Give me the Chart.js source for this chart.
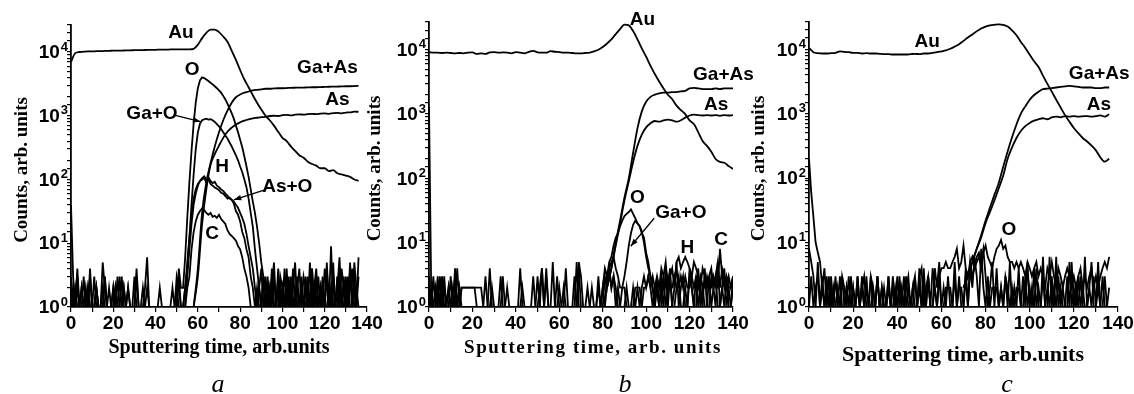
<!DOCTYPE html>
<html>
<head>
<meta charset="utf-8">
<script src="https://cdn.jsdelivr.net/npm/chart.js@4.4.1/dist/chart.umd.min.js"></script>
<style>
  body { margin: 0; background: #fff; }
  #wrap { position: relative; width: 1134px; height: 394px; }
  #wrap canvas { position: absolute; left: 0; top: 0; }
</style>
</head>
<body>
<div id="wrap">
  <canvas id="panel-a" width="1134" height="394"></canvas>
  <canvas id="panel-b" width="1134" height="394"></canvas>
  <canvas id="panel-c" width="1134" height="394"></canvas>
</div>
<script>
// tick labels
const xTickLabels = [0, 20, 40, 60, 80, 100, 120, 140];
const yDecades = [1, 10, 100, 1000, 10000];

// ---- panel a ----  (smooth curves sampled every 2 units, the rest every unit)
const auA = [7000, 9600, 10000, 10100, 10200, 10200, 10300, 10300, 10400, 10400,
  10500, 10500, 10500, 10600, 10600, 10700, 10700, 10700, 10800, 10800,
  10800, 10900, 10900, 10900, 11000, 11000, 11000, 11000, 11000, 11200,
  13000, 16500, 20000, 22500, 22500, 20500, 17500, 14500, 10500, 7500,
  5200, 3700, 2800, 2100, 1600, 1250, 1000, 850, 700, 560,
  450, 400, 330, 280, 240, 220, 190, 175, 165, 150,
  150, 135, 140, 125, 120, 115, 110, 100, 95];
const gaAsA = [1, 4, 30, 90, 180, 330, 550, 850, 1200, 1600,
  1950, 2150, 2300, 2400, 2500, 2550, 2600, 2650, 2650, 2680,
  2700, 2700, 2720, 2740, 2750, 2760, 2770, 2780, 2800, 2800,
  2820, 2830, 2850, 2860, 2870, 2880, 2900, 2900, 2920, 2950];
const asA = [1, 3, 20, 70, 170, 250, 340, 450, 560, 650,
  730, 790, 840, 880, 910, 930, 950, 960, 990, 1000,
  990, 1020, 1030, 1010, 1040, 1050, 1040, 1060, 1070, 1060,
  1080, 1090, 1070, 1100, 1110, 1090, 1120, 1130, 1160, 1150];
const oA = [3, 1, 1, 2, 1, 1, 3, 1, 2, 1, 1, 1, 2, 1, 1, 5, 2, 1, 1, 1,
  2, 1, 1, 3, 1, 1, 1, 2, 1, 1, 1, 4, 1, 1, 1, 2, 6, 1, 1, 1,
  1, 1, 2, 1, 1, 1, 1, 1, 2, 1, 1, 4, 2,
  2, 6, 25, 90, 280, 750, 1600, 2700, 3600, 4000,
  3900, 3700, 3500, 3300, 3100, 2900, 2700, 2500, 2300, 2050,
  1800, 1550, 1300, 1100, 900, 700, 550, 420, 320, 230,
  160, 110, 70, 45, 30, 18, 10, 5, 3, 1,
  2, 1, 3, 1, 1, 4, 1, 2, 1, 3, 1, 1, 2, 5, 1, 1, 3, 1, 2, 1,
  1, 4, 1, 3, 1, 2, 1, 1, 5, 1, 2, 3, 1, 1, 4, 1, 2, 1, 3, 1, 1, 5, 2, 1];
const gaOA = [1, 2, 1, 3, 1, 1, 1, 2, 1, 4, 1, 1, 2, 1, 1, 1, 3, 1, 2, 1,
  1, 2, 1, 1, 3, 1, 1, 2, 1, 1, 3, 1, 1, 1, 1, 1, 2, 1, 1, 1,
  1, 1, 1, 1, 1, 1, 1, 1, 1, 1, 3, 2, 1, 1,
  2, 4, 12, 40, 120, 300, 550, 750, 850, 880,
  900, 870, 880, 850, 800, 740, 680, 620, 550, 490,
  440, 380, 330, 280, 240, 200, 160, 130, 100, 75,
  50, 30, 18, 8, 4, 2, 1,
  3, 1, 2, 1, 4, 1, 1, 3, 1, 2, 1, 1, 3, 1, 4, 1, 2, 1, 1, 3,
  2, 1, 1, 4, 1, 3, 1, 1, 2, 1, 4, 1, 1, 3, 1, 2, 6, 1, 1, 3,
  1, 2, 4, 1, 1, 3];
const hA = [40, 3,
  1, 4, 1, 2, 1, 1, 1, 3, 1, 1, 2, 1, 1, 1, 3, 1, 1, 1, 2, 1,
  3, 1, 1, 2, 1, 1, 1, 1, 1, 3, 1, 1, 2, 1, 1, 1, 1, 1, 1, 1,
  1, 1, 1, 1, 1, 1, 1, 1, 1, 3, 1, 1,
  2, 5, 12, 28, 50, 70, 85, 95, 105, 112,
  100, 108, 95, 88, 92, 80, 76, 70, 66, 60,
  56, 50, 48, 45, 40, 36, 30, 25, 20, 14,
  9, 6, 4, 2, 1,
  2, 4, 1, 1, 3, 1, 2, 5, 1, 1, 3, 2, 1, 4, 1, 3, 1, 1, 2, 4,
  1, 1, 3, 1, 5, 1, 2, 1, 3, 1, 1, 4, 2, 1, 9, 1, 1, 3, 1, 4,
  2, 1, 1, 5, 1, 3, 1, 1];
const asOA = [2, 1, 1, 1, 1, 2, 1, 1, 1, 1, 1, 3, 1, 1, 1, 1, 1, 1, 1, 1,
  1, 2, 1, 1, 1, 1, 1, 1, 1, 1, 1, 1, 1, 1, 1, 1, 1, 1, 1, 1,
  1, 1, 1, 1, 1, 1, 1, 1, 1, 1, 2, 1, 1, 1, 1,
  3, 8, 20, 40, 60, 80, 95, 100, 106, 90,
  100, 85, 80, 75, 72, 68, 62, 60, 55, 50,
  52, 48, 42, 32, 28, 22, 15, 12, 8, 6,
  3, 2, 1,
  1, 2, 1, 3, 1, 1, 2, 1, 3, 1, 2, 1, 1, 4, 1, 1, 2, 1, 1, 3,
  1, 2, 1, 1, 3, 1, 1, 2, 4, 1, 1, 3, 1, 1, 2, 1, 5, 1, 1, 2,
  1, 3, 1, 1, 4, 1, 2, 1, 6];
const cA = [1, 1, 2, 1, 1, 1, 1, 1, 2, 1, 1, 1, 1, 1, 1, 2, 1, 1, 1, 1,
  1, 1, 1, 1, 1, 2, 1, 1, 1, 1, 1, 1, 1, 1, 1, 1, 1, 1, 1, 1,
  1, 1, 1, 1, 1, 1, 1, 1, 1, 1, 1, 1, 1, 1, 1, 2,
  3, 8, 15, 22, 28, 32, 35, 33, 30, 28,
  30, 26, 27, 25, 28, 24, 22, 20, 16, 14,
  13, 12, 11, 9, 8, 6, 4, 3, 2, 1,
  1, 1, 2, 1, 1, 1, 3, 1, 1, 2, 1, 1, 1, 2, 1, 1, 3, 1, 1, 1,
  2, 1, 1, 1, 1, 2, 1, 1, 3, 1, 1, 1, 2, 1, 1, 1, 1, 2, 1, 1,
  3, 1, 1, 1, 2, 1, 1, 1, 2, 1, 1];

// ---- panel b ----
const auB = [9200, 9000, 9000, 8900, 9000, 8900, 8800, 8900, 8800, 9000,
  9100, 8600, 8800, 8600, 9100, 9200, 9000, 9100, 9000, 8800,
  9200, 9000, 8800, 9300, 9600, 9100, 9000, 9000, 9500, 9300,
  9200, 9000, 9000, 8900, 8800, 8800, 8900, 9000, 9400, 10000,
  11000, 12500, 14500, 17500, 21000, 24500, 24000, 19500, 14500, 10500,
  7800, 5600, 4200, 3200, 2500, 2000, 1700, 1350, 1150, 1000,
  800, 700, 520, 380, 320, 260, 200, 180, 175, 155, 140];
const gaAsB = [2, 4, 10, 22, 50, 100, 250, 600, 1100, 1550,
  1850, 2000, 2100, 2150, 2150, 2200, 2200, 2250, 2300, 2500,
  2550, 2500, 2450, 2450, 2450, 2500, 2450, 2500, 2500, 2500];
const asB = [2, 4, 9, 20, 45, 90, 180, 320, 480, 620,
  720, 780, 760, 800, 820, 800, 760, 800, 880, 950,
  980, 960, 950, 960, 950, 960, 940, 960, 950, 960];
const oB = [2, 1, 3, 1, 2, 1, 1, 3, 1, 2, 1, 1, 4, 1, 2, 1, 1, 1, 1, 1,
  1, 1, 1, 1, 1, 1, 3, 1, 1, 1, 1, 1, 1, 3, 1, 1, 1, 1, 1, 1,
  1, 1, 4, 1, 1, 1, 1, 1, 1, 1, 1, 2, 4, 1, 1, 1, 1, 5, 1, 1,
  1, 1, 2, 1, 1, 1, 1, 1, 5, 1, 1, 1, 1, 1, 1, 2, 1, 1, 3, 1,
  2, 4, 3,
  5, 6, 9, 12, 14, 18, 22, 26, 28, 30, 33, 28, 24, 20, 18, 14, 12, 7, 5, 3, 2, 1,
  3, 1, 2, 1, 4, 1, 3, 1, 2, 5, 1, 2, 3, 1, 1, 4, 2, 1, 3, 1,
  2, 1, 4, 1, 1, 3, 2, 1, 5, 1, 2, 1, 3, 1, 1, 3];
const gaOB = [1, 2, 1, 1, 3, 1, 2, 1, 1, 1, 3, 1, 1, 1, 1, 2, 2, 2, 2, 2,
  2, 2, 2, 2, 2, 1, 1, 1, 1, 2, 1, 1, 1, 1, 1, 1, 1, 1, 1, 1,
  1, 1, 1, 1, 1, 1, 1, 1, 1, 1, 3, 1, 1, 1, 1, 1, 1, 1, 1, 1,
  2, 1, 1, 1, 1, 1, 1, 1, 1, 4, 1, 1, 1, 1, 1, 1, 1, 1, 1, 1,
  1, 1, 3, 4, 2, 3, 2, 1, 1,
  2, 3, 5, 9, 14, 19, 22, 20, 18, 15, 10, 6, 4, 3, 2, 1,
  2, 1, 1, 3, 1, 2, 4, 1, 1, 2, 3, 1, 1, 2, 1, 3, 2, 1, 1, 4,
  1, 2, 1, 1, 3, 1, 2, 3, 1, 1, 2, 4, 1, 2, 1, 2];
const hB = [3, 1, 1, 2, 1, 3, 1, 2, 1, 1, 1, 2, 1, 4, 1, 1, 1, 1, 1, 1,
  1, 1, 1, 1, 1, 1, 1, 1, 4, 1, 1, 1, 1, 1, 1, 1, 2, 1, 1, 1,
  1, 1, 1, 1, 1, 1, 1, 1, 3, 1, 1, 1, 1, 1, 4, 1, 1, 1, 1, 3,
  1, 1, 1, 4, 1, 1, 1, 1, 1, 5, 3, 1, 1, 2, 1, 1, 1, 1, 1, 1,
  2, 1, 3, 4, 5, 6, 4, 3, 2, 2, 2, 1, 1, 1, 1, 2, 2, 2, 1, 2,
  2, 3, 2, 1, 2,
  3, 2, 4, 3, 5, 2, 3, 4, 2, 5, 6, 4, 5, 6, 5, 4, 3, 5, 4, 3,
  2, 4, 3, 2, 3, 4, 2, 3, 5, 2, 4, 3, 2, 3, 2, 3];
const cB = [1300, 2, 1, 1, 2, 1, 3, 1, 1, 2, 1, 1, 3, 1, 1, 2, 2, 2, 2, 2,
  2, 2, 1, 1, 1, 1, 1, 1, 1, 1, 1, 1, 1, 1, 3, 1, 1, 1, 1, 1,
  1, 1, 1, 2, 1, 1, 1, 1, 1, 1, 1, 1, 4, 1, 3, 1, 1, 1, 1, 1,
  1, 1, 1, 1, 1, 1, 1, 3, 1, 1, 1, 1, 1, 1, 1, 1, 1, 1, 2, 1,
  1, 3, 2, 4, 2, 3, 1, 2, 1, 1, 1, 2, 1, 1, 2, 1, 2, 1, 2, 3,
  2, 3, 2, 3, 2, 2, 1, 3, 2, 2, 3, 2, 2, 3, 2, 2, 3, 2, 3, 2,
  2, 3, 2, 3, 2, 3, 2, 2, 3, 2, 2, 3, 2, 2, 8, 3, 2, 3, 2, 2, 3];

// ---- panel c ----
const auC = [10500, 9000, 8700, 8600, 8600, 8700, 8800, 9300, 9100, 9000,
  8800, 8800, 8600, 8700, 8600, 8600, 8500, 8400, 8400, 8300,
  8300, 8300, 8300, 8400, 8500, 8400, 8600, 8600, 8800, 9000,
  9300, 9600, 10200, 11000, 12000, 13500, 15200, 17000, 19000, 21000,
  22500, 23500, 24000, 24300, 24000, 22500, 19700, 16500, 13000, 10500,
  8200, 6500, 5300, 3900, 2900, 2200, 1650, 1250, 950, 750,
  600, 500, 420, 370, 320, 270, 210, 180, 200];
const gaAsC = [2, 3, 5, 8, 13, 22, 35, 55, 85, 150,
  260, 430, 680, 1000, 1300, 1650, 1950, 2200, 2400, 2450,
  2500, 2550, 2600, 2650, 2700, 2650, 2600, 2550, 2550, 2550,
  2500, 2500, 2550, 2550];
const asC = [2, 3, 5, 8, 12, 20, 30, 45, 70, 110,
  200, 300, 420, 540, 640, 720, 780, 820, 850, 820,
  880, 900, 880, 920, 900, 920, 900, 910, 920, 900,
  920, 940, 900, 980];
const oC = [1, 3, 1, 2, 3, 1, 2, 1, 3, 1, 2, 1, 3, 1, 1, 3, 2, 1, 3, 1,
  2, 1, 3, 1, 2, 3, 1, 1, 3, 2, 1, 3, 1, 2, 1, 1, 3, 1, 2, 1,
  3, 1, 2, 1, 3, 1, 1, 2, 3, 1, 3, 4, 1, 2, 3, 1, 4, 2, 1, 3, 4,
  4, 5, 4, 4, 5, 6, 8, 4, 5, 9, 4, 3, 5, 6, 4,
  5, 6, 4, 7, 9, 6, 5, 4, 6, 8, 9, 11, 8, 9, 6, 5, 5, 4, 5, 4,
  5, 4, 3, 5, 4, 3, 4, 5, 3, 4, 3, 2, 4, 3, 5, 3, 2, 4, 3, 2,
  3, 4, 3, 2, 3, 2, 3, 4, 2, 3, 2, 3, 4, 2, 3, 2, 3, 4, 5, 4, 6];
const hC = [200, 60, 25, 10, 7,
  5, 2, 4, 1, 3, 1, 2, 1, 1, 3, 1, 1, 2, 1, 3, 1, 1, 2, 1, 3,
  1, 2, 1, 3, 1, 1, 3, 1, 2, 1, 1, 3, 1, 1, 2, 1, 3, 1, 1, 2,
  3, 1, 2, 1, 1, 4, 1, 2, 1, 3, 1, 1, 2, 1, 3, 1,
  1, 2, 2, 2, 1, 3, 1, 2, 2, 1, 3, 1, 4, 2, 6, 3, 1, 8, 2, 1,
  3, 1, 2, 2, 2, 1, 2, 1, 3, 2, 1, 2, 1, 2, 2, 1, 1, 3, 1, 2,
  1, 4, 1, 2, 1, 3, 1, 1, 6, 1, 2, 1, 3, 1, 2, 1, 1, 5, 1, 2,
  1, 3, 1, 2, 1, 1, 2, 5, 1, 1, 2, 1, 3, 1, 1, 1];
const cC = [8, 5, 3, 1, 5, 1, 3, 1, 2, 1, 3, 1, 1, 2, 1, 3, 1, 2, 1, 1,
  2, 1, 3, 1, 2, 1, 3, 1, 1, 2, 1, 3, 1, 1, 2, 1, 2, 1, 3, 1,
  1, 2, 1, 3, 1, 2, 1, 1, 3, 1, 2, 1, 4, 1, 3, 1, 1, 4, 2, 5,
  1, 2, 1, 3, 1, 1, 5, 1, 3, 1, 1, 4, 1, 5, 3, 4, 6, 7, 5, 8,
  3, 1, 2, 5, 1, 4, 1, 2, 1, 3, 1, 5, 1, 2, 1, 4, 1, 3, 1, 5,
  1, 2, 1, 4, 1, 1, 6, 1, 2, 1, 3, 1, 6, 1, 2, 1, 1, 3, 1, 5,
  1, 2, 1, 3, 1, 6, 1, 2, 1, 3, 1, 5, 1, 1, 3, 1, 2];

// curve names and pointer arrows, placed in axis units
const namesA = [
  { text: 'Au', x: 52, y: 20000 }, { text: 'O', x: 57.3, y: 5200 },
  { text: 'Ga+As', x: 121.3, y: 5560 }, { text: 'As', x: 126, y: 1770 },
  { text: 'Ga+O', x: 38.3, y: 1090 }, { text: 'H', x: 71.5, y: 160 },
  { text: 'As+O', x: 102.3, y: 77 }, { text: 'C', x: 66.8, y: 14.3 }
];
const arrowsA = [
  { x1: 48.4, y1: 1030, x2: 61.2, y2: 810 },
  { x1: 91.3, y1: 68, x2: 77, y2: 48 }
];
const namesB = [
  { text: 'Au', x: 98.3, y: 29000 }, { text: 'Ga+As', x: 135.6, y: 4070 },
  { text: 'As', x: 132.2, y: 1390 }, { text: 'O', x: 96, y: 50 },
  { text: 'Ga+O', x: 116, y: 29 }, { text: 'H', x: 119, y: 8.3 },
  { text: 'C', x: 134.5, y: 11.2 }
];
const arrowsB = [{ x1: 103.7, y1: 24, x2: 92.9, y2: 8.8 }];
const namesC = [
  { text: 'Au', x: 53.5, y: 12900 }, { text: 'Ga+As', x: 131.5, y: 4200 },
  { text: 'As', x: 131.4, y: 1360 }, { text: 'O', x: 90.6, y: 15.6 }
];

const toPoints = (vals, start, step) => vals.map((v, i) => ({ x: start + i * step, y: v }));

// draws the 10^n labels, axis titles, panel letter, curve names and arrows
const profileDecor = {
  id: 'profileDecor',
  afterDraw(chart, args, o) {
    const { ctx, chartArea: ca } = chart;
    const xs = chart.scales.x, ys = chart.scales.y;
    ctx.save();
    ctx.fillStyle = '#000';
    ctx.strokeStyle = '#000';

    yDecades.forEach(v => {
      const py = ys.getPixelForValue(v);
      const exp = String(Math.round(Math.log10(v)));
      ctx.textAlign = 'right';
      ctx.textBaseline = 'middle';
      ctx.font = 'bold 13px "Liberation Sans"';
      const ew = ctx.measureText(exp).width;
      ctx.fillText(exp, ca.left - 3, py - 5);
      ctx.font = 'bold 19px "Liberation Sans"';
      ctx.fillText('10', ca.left - 4 - ew, py + 1);
    });

    ctx.textAlign = 'center';
    ctx.textBaseline = 'alphabetic';
    ctx.font = o.xTitleFont;
    ctx.letterSpacing = o.xTitleSpacing;
    ctx.fillText(o.xTitle, o.xTitleX, o.xTitleY);
    ctx.letterSpacing = '0px';

    ctx.save();
    ctx.translate(o.yTitleX, (ca.top + ca.bottom) / 2 + 4);
    ctx.rotate(-Math.PI / 2);
    ctx.font = 'bold 19px "Liberation Serif"';
    ctx.textBaseline = 'middle';
    ctx.fillText('Counts, arb. units', 0, 0);
    ctx.restore();

    ctx.font = 'italic 26px "Liberation Serif"';
    ctx.fillText(o.letter, o.letterX, 392);

    ctx.font = 'bold 19px "Liberation Sans"';
    ctx.textBaseline = 'middle';
    o.names.forEach(n => ctx.fillText(n.text, xs.getPixelForValue(n.x), ys.getPixelForValue(n.y)));

    ctx.lineWidth = 1.3;
    o.arrows.forEach(a => {
      const x1 = xs.getPixelForValue(a.x1), y1 = ys.getPixelForValue(a.y1);
      const x2 = xs.getPixelForValue(a.x2), y2 = ys.getPixelForValue(a.y2);
      const ang = Math.atan2(y2 - y1, x2 - x1);
      ctx.beginPath();
      ctx.moveTo(x1, y1);
      ctx.lineTo(x2, y2);
      ctx.stroke();
      ctx.beginPath();
      ctx.moveTo(x2, y2);
      ctx.lineTo(x2 - 8 * Math.cos(ang - 0.35), y2 - 8 * Math.sin(ang - 0.35));
      ctx.lineTo(x2 - 8 * Math.cos(ang + 0.35), y2 - 8 * Math.sin(ang + 0.35));
      ctx.closePath();
      ctx.fill();
    });
    ctx.restore();
  }
};

function makePanel(id, series, yMax, padding, decor) {
  const axisFont = { family: '"Liberation Sans"', size: 19, weight: 'bold' };
  return new Chart(document.getElementById(id), {
    type: 'line',
    data: {
      datasets: series.map(s => ({
        label: s.name,
        data: toPoints(s.vals, s.start, s.step),
        borderColor: '#000',
        borderWidth: 1.8,
        pointRadius: 0,
        cubicInterpolationMode: s.step > 1 ? 'monotone' : 'default',
        tension: 0
      }))
    },
    options: {
      responsive: false,
      animation: false,
      devicePixelRatio: 1,
      layout: { autoPadding: false, padding },
      plugins: { legend: { display: false }, tooltip: { enabled: false }, profileDecor: decor },
      scales: {
        x: {
          type: 'linear', min: 0, max: 140,
          afterFit: s => { s.height = 87; },
          ticks: {
            stepSize: 10, autoSkip: false, maxRotation: 0, padding: 0, color: '#000', font: axisFont,
            callback: v => xTickLabels.includes(v) ? String(v) : ''
          },
          grid: { drawOnChartArea: false, tickLength: 5, color: '#000', lineWidth: 1.2 },
          border: { color: '#000', width: 1.8 }
        },
        y: {
          type: 'logarithmic', min: 1, max: yMax,
          afterFit: s => { s.width = 60; },
          ticks: { autoSkip: false, callback: () => '' },
          grid: { drawOnChartArea: false, tickLength: 4, color: '#000', lineWidth: 1.2 },
          border: { color: '#000', width: 1.8 }
        }
      }
    },
    plugins: [profileDecor]
  });
}

makePanel('panel-a', [
  { name: 'Au', vals: auA, start: 0, step: 2 },
  { name: 'Ga+As', vals: gaAsA, start: 58, step: 2 },
  { name: 'As', vals: asA, start: 58, step: 2 },
  { name: 'O', vals: oA, start: 0, step: 1 },
  { name: 'Ga+O', vals: gaOA, start: 0, step: 1 },
  { name: 'H', vals: hA, start: 0, step: 1 },
  { name: 'As+O', vals: asOA, start: 0, step: 1 },
  { name: 'C', vals: cA, start: 0, step: 1 }
], 26500, { left: 11, right: 767, top: 25, bottom: 0 }, {
  xTitle: 'Sputtering time, arb.units', xTitleFont: 'bold 20px "Liberation Serif"',
  xTitleSpacing: '0px', xTitleX: 219, xTitleY: 353, yTitleX: 22,
  letter: 'a', letterX: 218, names: namesA, arrows: arrowsA
});

makePanel('panel-b', [
  { name: 'Au', vals: auB, start: 0, step: 2 },
  { name: 'Ga+As', vals: gaAsB, start: 82, step: 2 },
  { name: 'As', vals: asB, start: 82, step: 2 },
  { name: 'O', vals: oB, start: 0, step: 1 },
  { name: 'Ga+O', vals: gaOB, start: 0, step: 1 },
  { name: 'H', vals: hB, start: 0, step: 1 },
  { name: 'C', vals: cB, start: 0, step: 1 }
], 27000, { left: 369, right: 401, top: 22, bottom: 0 }, {
  xTitle: 'Sputtering time, arb. units', xTitleFont: 'bold 19px "Liberation Serif"',
  xTitleSpacing: '1.6px', xTitleX: 593, xTitleY: 353, yTitleX: 375,
  letter: 'b', letterX: 625, names: namesB, arrows: arrowsB
});

makePanel('panel-c', [
  { name: 'Au', vals: auC, start: 0, step: 2 },
  { name: 'Ga+As', vals: gaAsC, start: 70, step: 2 },
  { name: 'As', vals: asC, start: 70, step: 2 },
  { name: 'O', vals: oC, start: 0, step: 1 },
  { name: 'H', vals: hC, start: 0, step: 1 },
  { name: 'C', vals: cC, start: 0, step: 1 }
], 26500, { left: 749, right: 16, top: 22, bottom: 0 }, {
  xTitle: 'Spattering time, arb.units', xTitleFont: 'bold 22px "Liberation Serif"',
  xTitleSpacing: '0px', xTitleX: 963, xTitleY: 361, yTitleX: 759,
  letter: 'c', letterX: 1007, names: namesC, arrows: []
});
</script>
</body>
</html>
